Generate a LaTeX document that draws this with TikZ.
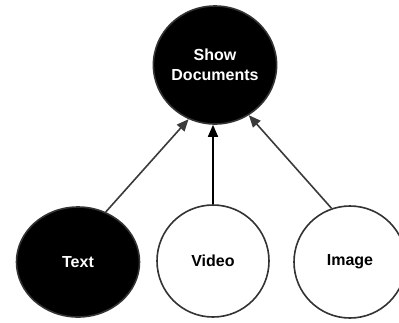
\documentclass[tikz,border=0pt]{standalone}
\usepackage{fontspec}
\setmainfont{Liberation Sans}
\usepackage{tikz}
\usetikzlibrary{arrows.meta, shapes.geometric}
\definecolor{ringgray}{RGB}{51,51,51}
\definecolor{arrowgray}{RGB}{58,58,58}

\begin{document}
\begin{tikzpicture}[x=1pt, y=-1pt,
  bubble/.style={ellipse, draw=ringgray, line width=1.6pt, inner sep=0pt,
                 minimum width=112pt, minimum height=112pt,
                 font=\fontsize{16}{20}\selectfont\bfseries, align=center},
  darkbubble/.style={bubble, fill=black, text=white},
  arrow/.style={-{Triangle[length=12pt, width=10pt]}, line width=1.6pt}
]
\useasboundingbox (0,0) rectangle (399,322);

% Top: the target
\node[darkbubble, minimum width=118pt, minimum height=118pt] (show) at (215,65) {Show\\Documents};

% Bottom: the sources
\node[darkbubble, minimum width=123pt, minimum height=110pt] (text) at (78,262) {Text};
\node[bubble, fill=white] (video) at (213,261) {Video};
\node[bubble, fill=white] (image) at (350,262) {Image};

% Arrows
\draw[arrow, arrowgray] (text.61) -- (show.244);
\draw[arrow, black] (video.north) -- (video.north |- show.south);
\draw[arrow, arrowgray] (image.109) -- (show.304);
\end{tikzpicture}
\end{document}
